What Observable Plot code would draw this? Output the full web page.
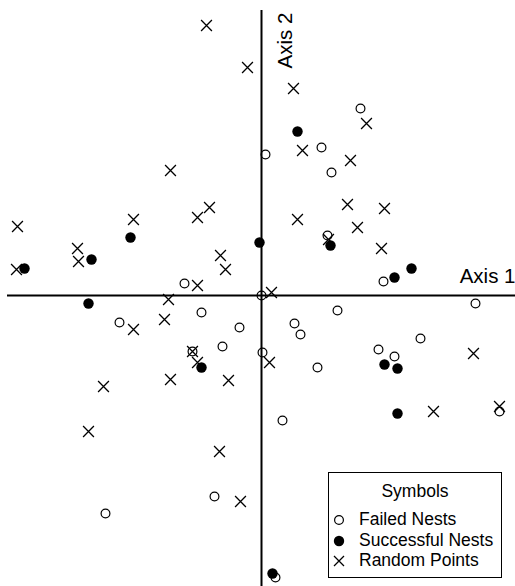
<!DOCTYPE html>
<html>
<head>
<meta charset="utf-8">
<script src="https://cdn.jsdelivr.net/npm/d3@7"></script>
<script src="https://cdn.jsdelivr.net/npm/@observablehq/plot@0.6"></script>
<style>
  body { margin: 0; background: #fff; }
  #wrap { position: relative; width: 515px; height: 586px; font-family: "Liberation Sans", Arial, Helvetica, sans-serif; color: #000; }
  #legend { position: absolute; left: 328px; top: 472px; width: 172px; height: 104px; border: 1.5px solid #000; background: #fff; }
  #legend .title { position: absolute; left: 0; width: 100%; top: 8px; text-align: center; font-size: 17.5px; line-height: 20px; }
  #legend .row { position: absolute; left: 0; height: 20px; font-size: 17.5px; line-height: 20px; white-space: nowrap; }
  #legend .row svg { position: absolute; left: 2px; top: 0; }
  #legend .row span { position: absolute; left: 30px; top: 0; }
</style>
</head>
<body>
<div id="wrap"></div>
<script>
// Ordination scores (Axis 1, Axis 2)
const failedNests = [
  [-0.77, 0.12], [0.99, 1.87], [0.04, 1.41], [0.60, 1.48], [0.70, 1.23],
  [0.66, 0.60], [1.22, 0.14], [-0.60, -0.17], [-1.42, -0.27], [-0.22, -0.32],
  [-0.69, -0.56], [-0.39, -0.51], [-0.47, -2.01], [-1.56, -2.18], [0.00, 0.00],
  [0.76, -0.15], [0.33, -0.28], [0.39, -0.39], [2.14, -0.08], [0.01, -0.57],
  [0.56, -0.72], [1.17, -0.54], [1.33, -0.61], [1.59, -0.43], [2.38, -1.16],
  [0.21, -1.25], [0.14, -2.82]
];
const successfulNests = [
  [-2.37, 0.27], [-1.70, 0.36], [-1.31, 0.58], [-0.02, 0.53], [0.36, 1.64],
  [0.69, 0.50], [1.50, 0.27], [1.33, 0.18], [-1.73, -0.08], [-0.60, -0.72],
  [1.23, -0.69], [1.36, -0.73], [1.36, -1.18], [0.11, -2.78]
];
const randomPoints = [
  [-0.55, 2.70], [-0.14, 2.28], [-0.91, 1.25], [-2.44, 0.69], [-1.28, 0.76],
  [-0.64, 0.78], [-0.52, 0.88], [-1.84, 0.47], [-1.83, 0.34], [-2.45, 0.26],
  [-0.41, 0.40], [-0.36, 0.26], [-0.64, 0.10], [0.32, 2.07], [1.05, 1.72],
  [0.41, 1.45], [0.89, 1.35], [0.86, 0.91], [1.23, 0.87], [0.36, 0.76],
  [0.96, 0.68], [0.67, 0.56], [1.20, 0.47], [-0.93, -0.04], [-1.28, -0.34],
  [-0.97, -0.24], [-0.69, -0.56], [-0.64, -0.67], [-1.58, -0.91], [-0.91, -0.84],
  [-0.33, -0.85], [-1.73, -1.36], [-0.42, -1.56], [-0.21, -2.06], [0.10, 0.03],
  [0.08, -0.67], [2.12, -0.58], [1.72, -1.16], [2.38, -1.11]
];
const xDomain = [-2.61, 2.54];
const yDomain = [-2.91, 2.95];
const axis1Extent = [-2.54, 2.54];
const axis2Extent = [-2.91, 2.85];
const axisLabels = [
  {text: "Axis 1", x: 2.54, y: 0.13, rotate: 0, anchor: "end", line: "bottom"},
  {text: "Axis 2", x: 0.24, y: 2.55, rotate: -90, anchor: "middle", line: "middle"}
];
const legendTitle = "Symbols";
const legendItems = ["Failed Nests", "Successful Nests", "Random Points"];

const fx = d => d[0], fy = d => d[1];
const font = '"Liberation Sans", Arial, Helvetica, sans-serif';

const chart = Plot.plot({
  width: 515,
  height: 586,
  margin: 0,
  x: {domain: xDomain, axis: null},
  y: {domain: yDomain, axis: null},
  style: {background: "#fff", fontFamily: font},
  marks: [
    Plot.ruleY([0], {x1: axis1Extent[0], x2: axis1Extent[1], stroke: "#000", strokeWidth: 2}),
    Plot.ruleX([0], {y1: axis2Extent[0], y2: axis2Extent[1], stroke: "#000", strokeWidth: 2}),
    Plot.dot(failedNests, {x: fx, y: fy, r: 4.4, stroke: "#000", fill: "none", strokeWidth: 1.2}),
    Plot.dot(successfulNests, {x: fx, y: fy, r: 5.2, fill: "#000", stroke: "none"}),
    Plot.dot(randomPoints, {x: fx, y: fy, r: 5, symbol: "times", stroke: "#000", strokeWidth: 1.3}),
    ...axisLabels.map(l => Plot.text([l], {
      x: "x", y: "y", text: "text", rotate: l.rotate, textAnchor: l.anchor, lineAnchor: l.line,
      fontSize: 20.5, fill: "#000", fontFamily: font
    }))
  ]
});

const wrap = document.getElementById("wrap");
wrap.appendChild(chart);

// Legend box
const legend = document.createElement("div");
legend.id = "legend";
const t = document.createElement("div");
t.className = "title";
t.textContent = legendTitle;
legend.appendChild(t);
const symbolSvgs = [
  '<svg width="16" height="20"><circle cx="8" cy="11" r="4.4" fill="none" stroke="#000" stroke-width="1.2"/></svg>',
  '<svg width="16" height="20"><circle cx="8" cy="11" r="5.2" fill="#000"/></svg>',
  '<svg width="16" height="20"><path d="M3,6L13,16M3,16L13,6" stroke="#000" stroke-width="1.3"/></svg>'
];
legendItems.forEach((label, i) => {
  const row = document.createElement("div");
  row.className = "row";
  row.style.top = (36 + i * 20.5) + "px";
  row.innerHTML = symbolSvgs[i] + '<span></span>';
  row.querySelector("span").textContent = label;
  legend.appendChild(row);
});
wrap.appendChild(legend);
</script>
</body>
</html>
